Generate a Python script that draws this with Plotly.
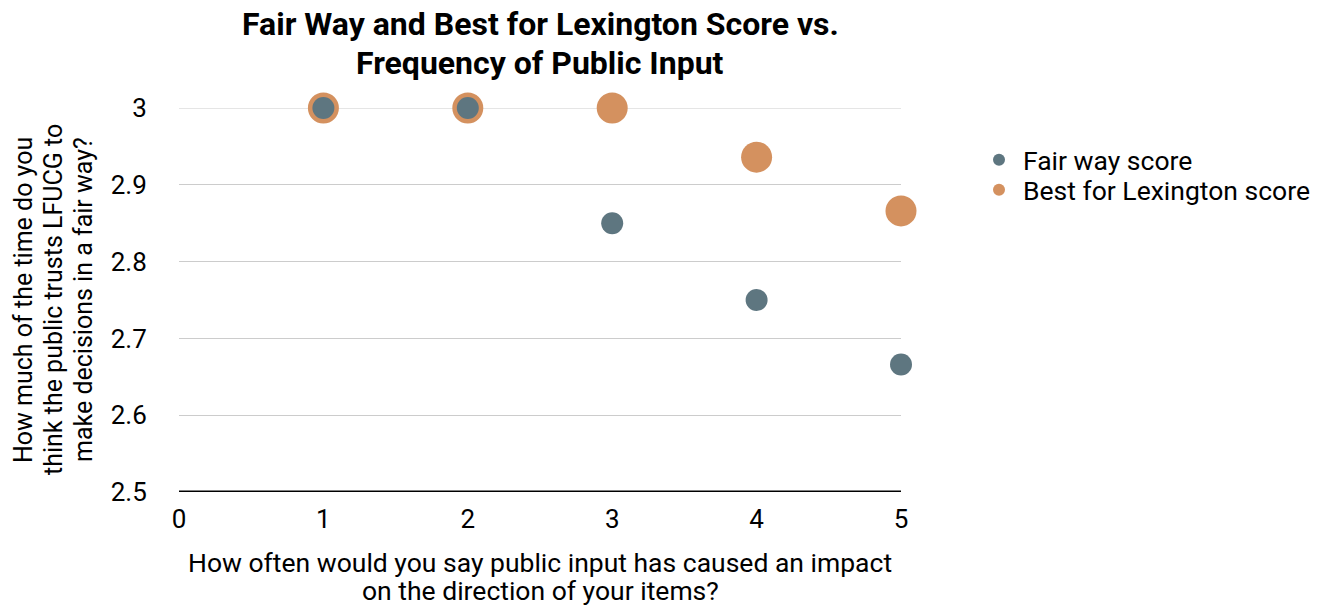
import plotly.graph_objects as go

frequency = [1, 2, 3, 4, 5]
fair_way_score = [3.0, 3.0, 2.85, 2.75, 2.666]
best_for_lexington_score = [3.0, 3.0, 3.0, 2.936, 2.866]

x_ticks = [0, 1, 2, 3, 4, 5]
y_ticks = [2.5, 2.6, 2.7, 2.8, 2.9, 3.0]
y_tick_labels = ["2.5", "2.6", "2.7", "2.8", "2.9", "3"]

title_lines = ["Fair Way and Best for Lexington Score vs.", "Frequency of Public Input"]
x_title_lines = ["How often would you say public input has caused an impact",
                 "on the direction of your items?"]
y_title_lines = ["How much of the time do you",
                 "think the public trusts LFUCG to",
                 "make decisions in a fair way?"]

blue = "#5e7680"
orange = "#d4915f"

W, H = 1334, 607
L, R, T, B = 179, 433, 108, 115
PW, PH = W - L - R, H - T - B


def px(xp):
    return (xp - L) / PW


def py(yp):
    return 1 - (yp - T) / PH


fig = go.Figure()
fig.add_trace(go.Scatter(
    x=frequency, y=best_for_lexington_score, mode="markers",
    name="Best for Lexington score", legend="legend2",
    marker=dict(color=orange, size=31), cliponaxis=False,
))
fig.add_trace(go.Scatter(
    x=frequency, y=fair_way_score, mode="markers",
    name="Fair way score", legend="legend",
    marker=dict(color=blue, size=22), cliponaxis=False,
))

legend_common = dict(xanchor="left", yanchor="middle", font=dict(size=26.5),
                     itemsizing="constant", bgcolor="rgba(0,0,0,0)", itemwidth=38)

fig.update_layout(
    width=W, height=H,
    paper_bgcolor="white", plot_bgcolor="white",
    font=dict(family="Roboto", size=26, color="#000000"),
    margin=dict(l=L, r=R, t=T, b=B, autoexpand=False),
    showlegend=True,
    legend=dict(x=px(975), y=py(160), **legend_common),
    legend2=dict(x=px(975), y=py(190), **legend_common),
    xaxis=dict(
        range=[0, 5], tickvals=x_ticks, showgrid=False, zeroline=False,
        showline=False, ticks="outside", ticklen=4, tickcolor="rgba(0,0,0,0)",
        tickfont=dict(size=26), automargin=False,
    ),
    yaxis=dict(
        range=[2.5, 3], tickvals=y_ticks, ticktext=y_tick_labels,
        showgrid=True, gridcolor="#cccccc", gridwidth=1,
        zeroline=False, showline=False, ticks="outside", ticklen=26,
        tickcolor="rgba(0,0,0,0)", tickfont=dict(size=26), automargin=False,
    ),
)

# top gridline (at range edge) drawn explicitly beneath the markers
fig.add_shape(type="line", xref="paper", yref="y", x0=0, x1=1, y0=y_ticks[-1], y1=y_ticks[-1],
              line=dict(color="#cccccc", width=1), layer="below")
fig.add_shape(type="line", xref="paper", yref="y", x0=0, x1=1, y0=y_ticks[0], y1=y_ticks[0],
              line=dict(color="#000000", width=3), layer="above")

# Title lines
for text, yc in zip(title_lines, [24.5, 63]):
    fig.add_annotation(text="<b>" + text + "</b>", xref="paper", yref="paper",
                       x=px(540), y=py(yc), xanchor="center", yanchor="middle",
                       showarrow=False, font=dict(size=32, color="#000000"))

# X axis title lines
for text, yc in zip(x_title_lines, [562, 590]):
    fig.add_annotation(text=text, xref="paper", yref="paper",
                       x=px(540), y=py(yc), xanchor="center", yanchor="middle",
                       showarrow=False, font=dict(size=26.5, color="#000000"))

# Y axis title lines
for text, xc in zip(y_title_lines, [23, 53, 83]):
    fig.add_annotation(text=text, xref="paper", yref="paper", textangle=-90,
                       x=px(xc), y=py(300), xanchor="center", yanchor="middle",
                       showarrow=False, font=dict(size=25, color="#000000"))

fig.write_html("out.html",
               config={"displayModeBar": False},
               post_script="document.body.style.margin='0px';document.body.style.overflow='hidden';")
